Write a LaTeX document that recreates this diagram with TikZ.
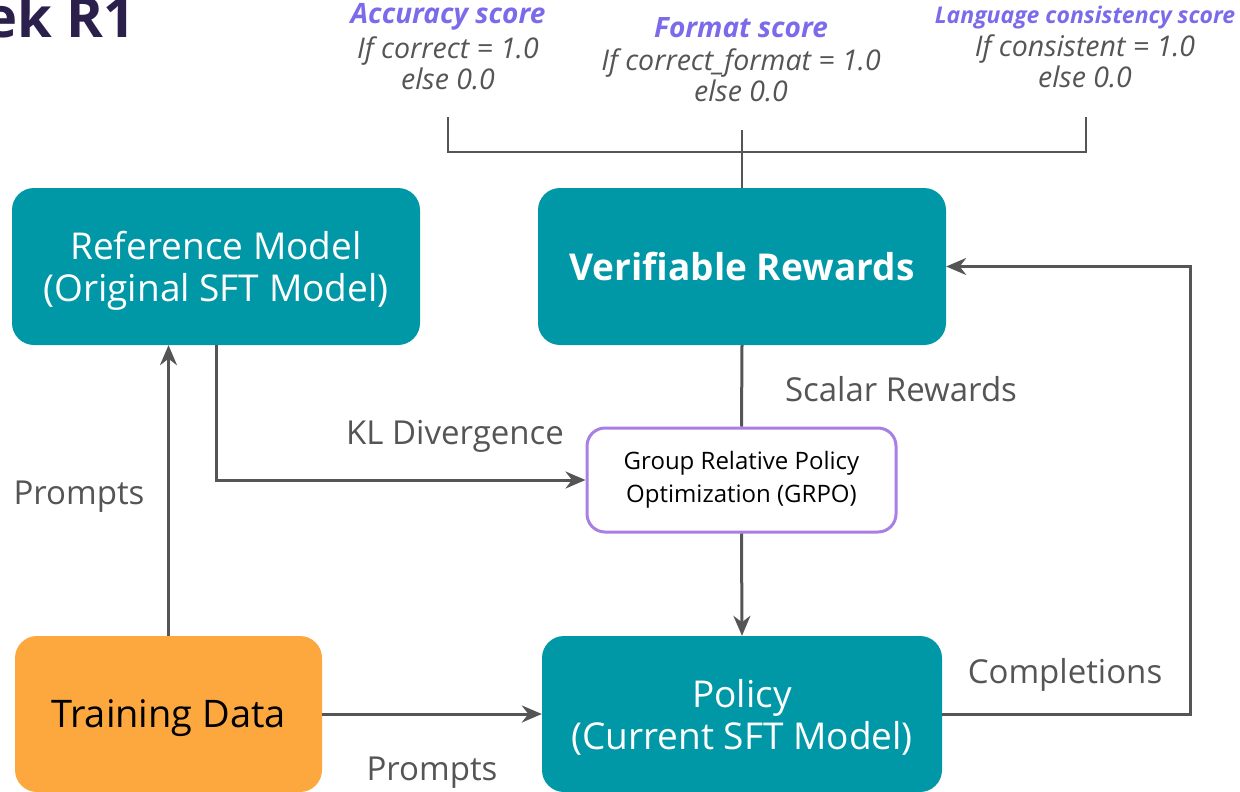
\documentclass[tikz,border=0pt]{standalone}
\usepackage{fontspec}
\setmainfont{Open Sans}
\usetikzlibrary{arrows.meta,positioning}
\definecolor{teal1}{HTML}{0097A7}
\definecolor{orange1}{HTML}{FCA83F}
\definecolor{purp}{HTML}{7B6BEA}
\definecolor{purpb}{HTML}{A97FE3}
\definecolor{lgray}{HTML}{555555}
\definecolor{title}{HTML}{2B1F4B}
\newcommand{\dn}[2]{\raisebox{-#1}[\height][\depth]{#2}}
\tikzset{
  box/.style={rounded corners=22pt, inner sep=0pt, align=center},
  tealbox/.style={box, fill=teal1, text=white, font=\fontsize{37}{42}\selectfont},
  arr/.style={draw=lgray, line width=3pt, -{Stealth[length=20pt,width=17pt]}},
  ln/.style={draw=lgray, line width=3pt},
  thin/.style={draw=lgray, line width=1.5pt},
  lab/.style={text=lgray, font=\fontsize{33}{36}\selectfont, inner sep=0pt},
  sc/.style={text=purp, font=\fontsize{28}{30}\selectfont\bfseries\itshape, inner sep=0pt},
  sv/.style={text=lgray, font=\fontsize{28.5}{31}\selectfont\itshape, inner sep=0pt, align=center},
}
\begin{document}
\begin{tikzpicture}[x=1pt,y=-1pt]
\useasboundingbox (0,0) rectangle (1240,792);
\clip (0,0) rectangle (1240,792);
\node[anchor=base east, text=title, font=\fontsize{56}{60}\selectfont\bfseries, inner sep=0pt] (ttl) at (136,38) {ek R1};

\node[tealbox, minimum width=408pt, minimum height=157pt] (ref) at (216,266.5) {\dn{6pt}{\begin{tabular}{@{}c@{}}Reference Model\\[0pt](Original SFT Model)\end{tabular}}};
\node[tealbox, minimum width=408pt, minimum height=157pt, font=\fontsize{37}{42}\selectfont\bfseries] (vr) at (742,266.5) {Verifiable Rewards};
\node[tealbox, minimum width=400pt, minimum height=156pt] (pol) at (742,714) {\dn{6pt}{\begin{tabular}{@{}c@{}}Policy\\[0pt](Current SFT Model)\end{tabular}}};
\node[box, fill=orange1, text=black, minimum width=307pt, minimum height=156pt, font=\fontsize{38}{42}\selectfont] (train) at (168.5,714) {\dn{4pt}{Training Data}};
\node[box, rounded corners=18pt, fill=white, draw=purpb, line width=3pt, minimum width=309pt, minimum height=104pt, font=\fontsize{24}{33}\selectfont] (grpo) at (741.5,480) {Group Relative Policy\\Optimization (GRPO)};

% score texts
\node[sc] (s1) at (448,17) {Accuracy score};
\node[sv] (v1) at (448,63) {If correct = 1.0\\else 0.0};
\node[sc] (s2) at (741,28) {Format score};
\node[sv] (v2) at (741,75) {If correct\_format = 1.0\\else 0.0};
\node[sc, font=\fontsize{23}{24}\selectfont\bfseries\itshape] (s3) at (1085,18) {Language consistency score};
\node[sv] (v3) at (1085,61) {If consistent = 1.0\\else 0.0};

% bracket
\coordinate (b1) at (448,117);
\coordinate (b1d) at (448,152);
\coordinate (b3) at (1086,117);
\coordinate (b3d) at (1086,152);
\coordinate (b2) at (742,130);
\draw[thin] (b1) -- (b1d) -- (b3d) -- (b3);
\draw[thin] (b2) -- (vr.north);

% connectors
\draw[arr] (train.north) -- (train.north |- ref.south);
\draw[arr] (ref.south) |- (grpo.west);
\draw[ln] (vr.south) -- (grpo.north);
\draw[arr] (grpo.south) -- (pol.north);
\draw[arr] (train.east) -- (pol.west);
\coordinate (cr) at (1190,714);
\draw[arr] (pol.east) -- (cr) |- (vr.east);

% labels
\node[lab] (lp1) at (79,497) {Prompts};
\node[lab] (lkl) at (455,436) {KL Divergence};
\node[lab] (lsr) at (901,389) {Scalar Rewards};
\node[lab] (lc) at (1065,675) {Completions};
\node[lab] (lp2) at (432,773) {Prompts};
\end{tikzpicture}
\end{document}
